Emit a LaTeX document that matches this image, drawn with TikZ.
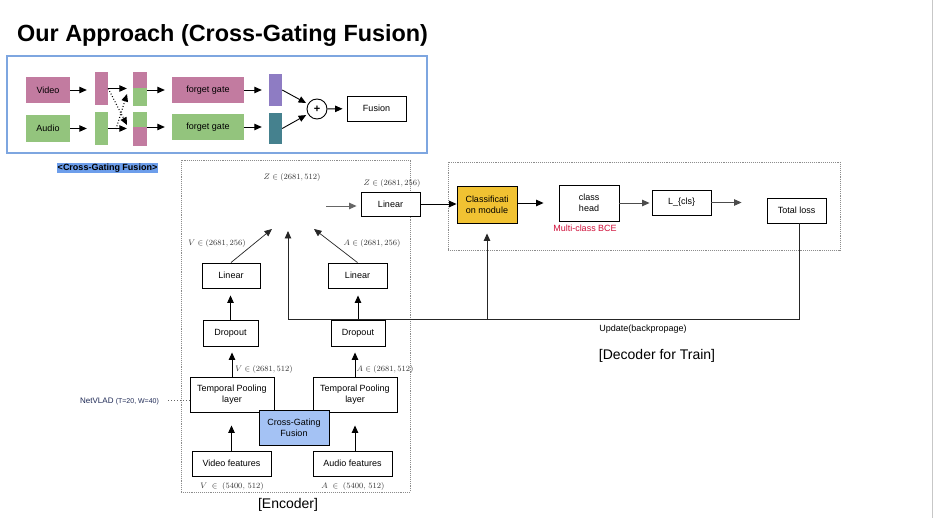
\documentclass[tikz,border=0pt]{standalone}
\usepackage[no-math]{fontspec}
\setmainfont{Liberation Sans}
\usetikzlibrary{arrows.meta,calc}
\definecolor{vpink}{HTML}{C27BA0}
\definecolor{agreen}{HTML}{93C47D}
\definecolor{gpurple}{HTML}{8E7CC3}
\definecolor{gteal}{HTML}{45818E}
\definecolor{insetblue}{HTML}{7EA6E0}
\definecolor{hlblue}{HTML}{6D9EEB}
\definecolor{cgblue}{HTML}{A4C2F4}
\definecolor{clsgold}{HTML}{F1C232}
\definecolor{bcered}{HTML}{D0103A}
\definecolor{navy}{HTML}{1F2A56}
\begin{document}
\begin{tikzpicture}[x=1pt,y=-1pt,
  box/.style={draw, line width=0.9pt, fill=white, inner sep=0pt, align=center, font=\fontsize{9}{11}\selectfont},
  cbox/.style={inner sep=0pt, align=center, font=\fontsize{9}{11}\selectfont},
  arr/.style={-{Triangle[length=7.5pt,width=6.5pt]}, line width=0.9pt},
  bar/.style={inner sep=0pt, minimum width=13pt},
  mlab/.style={font=\fontsize{8}{9}\selectfont, text=black!80, inner sep=0pt},
  frame/.style={draw=black!45, line width=0.9pt, densely dotted, inner sep=0pt},
]
\fill[white] (0,0) rectangle (933,518);
\path[use as bounding box] (0,0) rectangle (933,518);
\draw[black!22, line width=1.4pt] (932.2,0) -- (932.2,518);

% title
\node[anchor=base west, inner sep=0pt, font=\fontsize{23.4}{28}\selectfont\bfseries] (title) at (17,42) {Our Approach (Cross-Gating Fusion)};

% ---------- inset ----------
\node[draw=insetblue, line width=1.2pt, minimum width=420pt, minimum height=97pt, inner sep=0pt] (inset) at (217,104.5) {};
\node[cbox, fill=vpink, minimum width=44pt, minimum height=26pt] (video) at (48,90) {Video};
\node[cbox, fill=agreen, minimum width=44pt, minimum height=27pt] (audio) at (48,128.5) {Audio};
\node[bar, fill=vpink, minimum height=33pt] (bar1) at (101.5,88.5) {};
\node[bar, fill=agreen, minimum height=33pt] (bar2) at (101.5,128.5) {};
\node[bar, fill=vpink, minimum width=14pt, minimum height=16pt] (s1a) at (140,80) {};
\node[bar, fill=agreen, minimum width=14pt, minimum height=18pt] (s1b) at (140,97) {};
\node[bar, fill=agreen, minimum width=14pt, minimum height=15pt] (s2a) at (140,119.5) {};
\node[bar, fill=vpink, minimum width=14pt, minimum height=19pt] (s2b) at (140,136.5) {};
\node[cbox, fill=vpink, minimum width=72pt, minimum height=26pt] (fg1) at (208,90) {forget gate};
\node[cbox, fill=agreen, minimum width=72pt, minimum height=26pt] (fg2) at (208,127) {forget gate};
\node[bar, fill=gpurple, minimum height=32pt] (gp) at (275.5,90) {};
\node[bar, fill=gteal, minimum height=31pt] (gt) at (275.5,128.5) {};
\node[draw, circle, line width=0.9pt, minimum size=20pt, inner sep=0pt, font=\fontsize{11}{11}\selectfont\bfseries] (plus) at (317,109) {+};
\node[box, minimum width=59pt, minimum height=25pt] (fusion) at (376.5,108.5) {Fusion};

\draw[arr, shorten >=8pt] (video.east) -- (video.east -| bar1.west);
\draw[arr, shorten >=8pt] (audio.east) -- (audio.east -| bar2.west);
\draw[arr, shorten >=6pt] (bar1.east) -- (bar1.east -| s1a.west);
\draw[arr, shorten >=6pt] (bar2.east) -- (bar2.east -| s2a.west);
\coordinate (xa) at (127,125);
\coordinate (xbs) at (116,129);
\coordinate (xb) at (127,94);
\draw[arr, dotted, line width=1.1pt] (bar1.east) -- (xa);
\draw[arr, dotted, line width=1.1pt] (xbs) -- (xb);
\draw[arr, shorten >=7pt] (fg1.west -| s1b.east) -- (fg1.west);
\draw[arr, shorten >=7pt] (fg2.west -| s2a.east) -- (fg2.west);
\draw[arr, shorten >=7pt] (fg1.east) -- (fg1.east -| gp.west);
\draw[arr, shorten >=7pt] (fg2.east) -- (fg2.east -| gt.west);
\draw[arr, shorten >=2pt] (gp.east) -- (plus);
\draw[arr, shorten >=2pt] (gt.east) -- (plus);
\draw[arr, shorten >=4pt] (plus) -- (fusion);

\node[fill=hlblue, inner sep=0pt, minimum width=101pt, minimum height=10.5pt, font=\fontsize{9}{9}\selectfont\bfseries] (cgtag) at (107.5,168) {<Cross-Gating Fusion>};

% ---------- encoder ----------
\node[frame, minimum width=229pt, minimum height=332pt] (enc) at (295.5,326) {};
\node[box, minimum width=79pt, minimum height=25pt] (vf) at (231.5,463.5) {Video features};
\node[box, minimum width=79pt, minimum height=25pt] (af) at (352.5,463.5) {Audio features};
\node[box, minimum width=84pt, minimum height=35pt] (tpl) at (232,394.5) {Temporal Pooling\\layer};
\node[box, minimum width=84pt, minimum height=35pt] (tpr) at (355,394.5) {Temporal Pooling\\layer};
\node[box, fill=cgblue, minimum width=70pt, minimum height=35pt] (cgf) at (294,427.5) {Cross-Gating\\Fusion};
\node[box, minimum width=55pt, minimum height=26pt] (dol) at (230.5,333) {Dropout};
\node[box, minimum width=54pt, minimum height=26pt] (dor) at (358,333) {Dropout};
\node[box, minimum width=58pt, minimum height=25pt] (linl) at (231,275.5) {Linear};
\node[box, minimum width=59pt, minimum height=25pt] (linr) at (357.5,275.5) {Linear};
\node[box, minimum width=59pt, minimum height=24pt] (lint) at (390.5,204) {Linear};

\draw[arr, shorten >=13pt] (vf.north) -- (vf.north |- tpl.south);
\draw[arr, shorten >=13pt] (af.north -| tpr.south) -- (tpr.south);
\draw[arr, shorten >=6pt] (tpl.north) -- (tpl.north |- dol.south);
\draw[arr, shorten >=6pt] (tpr.north) -- (tpr.north |- dor.south);
\draw[arr, shorten >=7pt] (dol.north) -- (dol.north |- linl.south);
\draw[arr, shorten >=7pt] (dor.north) -- (dor.north |- linr.south);
\coordinate (zl) at (272,229);
\coordinate (zr) at (314,229);
\coordinate (zin) at (326,206);
\draw[arr, line width=0.7pt, black!85] (linl.north) -- (zl);
\draw[arr, line width=0.7pt, black!85] (linr.north) -- (zr);
\draw[arr, black!60, shorten >=4pt] (zin) -- (zin -| lint.west);

% labels
\node[mlab] (lz512) at (292,178) {$Z\in(2681,512)$};
\node[mlab] (lz256) at (392,184) {$Z\in(2681,256)$};
\node[mlab] (lv256) at (217,244) {$V\in(2681,256)$};
\node[mlab] (la256) at (372,244) {$A\in(2681,256)$};
\node[mlab] (lv512) at (264,369) {$V\in(2681,512)$};
\node[mlab] (la512) at (385,369) {$A\in(2681,512)$};
\node[mlab, font=\fontsize{8.5}{9}\selectfont] (lv5400) at (232,486) {$V\ \in\ (5400,\,512)$};
\node[mlab, font=\fontsize{8.5}{9}\selectfont] (la5400) at (353,486) {$A\ \in\ (5400,\,512)$};
\node[anchor=base west, inner sep=0pt, text=navy] (netvlad) at (80,403) {\fontsize{8}{9}\selectfont NetVLAD \fontsize{7}{8}\selectfont(T=20, W=40)};
\coordinate (nvs) at (168,400);
\draw[black!60, line width=1pt, dotted] (nvs) -- (nvs -| tpl.west);
\node[inner sep=0pt, font=\fontsize{14}{16}\selectfont] (enclab) at (288,505) {[Encoder]};

% ---------- decoder ----------
\node[frame, minimum width=392pt, minimum height=88pt] (dec) at (644,206) {};
\node[box, fill=clsgold, minimum width=60pt, minimum height=37pt] (cls) at (487,204.5) {Classificati\\on module};
\node[box, minimum width=60pt, minimum height=36pt] (head) at (589,203) {class\\head};
\node[box, minimum width=59pt, minimum height=25pt] (lcls) at (681.5,202.5) {L\_\{cls\}};
\node[box, minimum width=59pt, minimum height=25pt] (total) at (796.5,210.5) {Total loss};

\draw[arr] (lint.east) -- (lint.east -| cls.west);
\draw[arr, shorten >=15pt] (cls.east |- head.west) -- (head.west);
\draw[arr, black!70, shorten >=2pt] (head.east) -- (head.east -| lcls.west);
\draw[arr, black!70, shorten >=25pt] (lcls.east) -- (lcls.east -| total.west);

\coordinate (fbr) at (799,319);
\coordinate (fbl) at (288,319);
\coordinate (ztop) at (288,231);
\draw[black!85, line width=0.9pt] (total.south -| fbr) -- (fbr) -- (fbl);
\draw[arr, black!85] (fbl) -- (ztop);
\draw[arr, black!85, shorten >=10pt] (cls.south |- fbl) -- (cls.south);

\node[inner sep=0pt, text=bcered, font=\fontsize{9}{10}\selectfont] (bce) at (585,228) {Multi-class BCE};
\node[inner sep=0pt, font=\fontsize{9}{10}\selectfont] (upd) at (643,329) {Update(backpropage)};
\node[inner sep=0pt, font=\fontsize{14}{16}\selectfont] (declab) at (657,356) {[Decoder for Train]};
\end{tikzpicture}
\end{document}
